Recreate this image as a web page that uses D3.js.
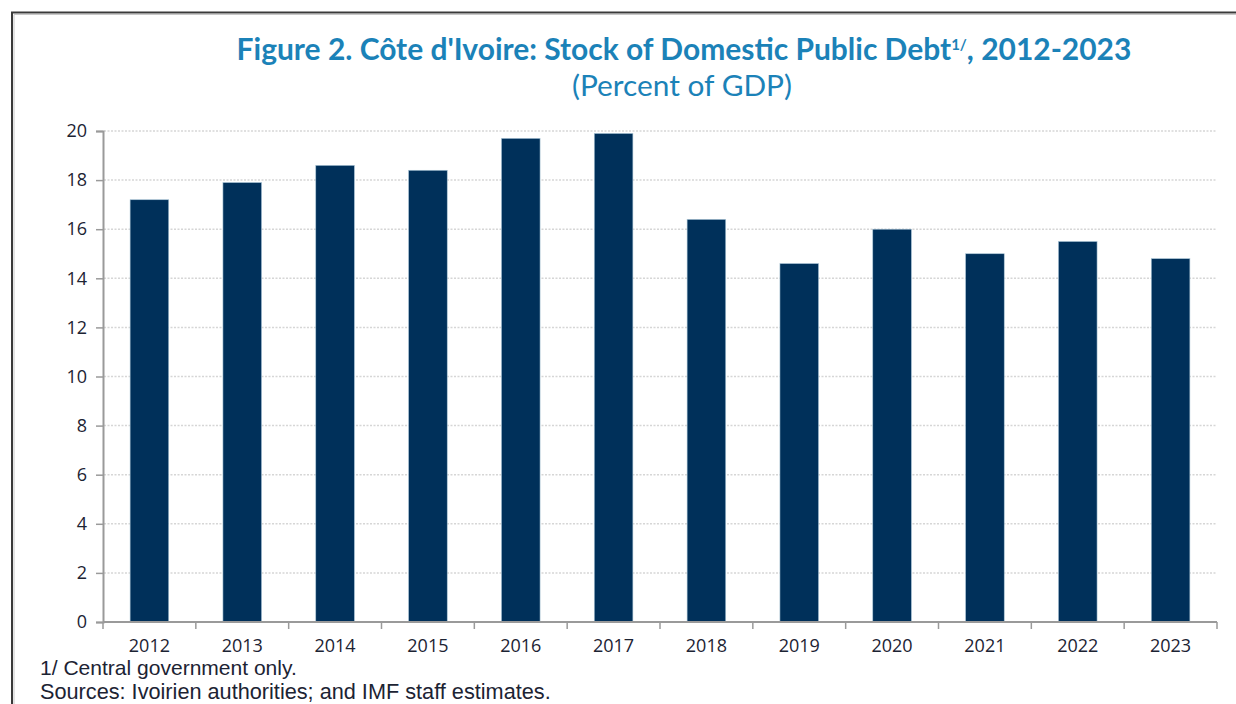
<!DOCTYPE html>
<html>
<head>
<meta charset="utf-8">
<script src="https://cdn.jsdelivr.net/npm/d3@7"></script>
<style>
  html, body { margin: 0; padding: 0; background: #fff; }
  svg { display: block; }
</style>
</head>
<body>
<svg id="chart" width="1236" height="704"></svg>
<script>
// Domestic public debt stock, percent of GDP
const years = ["2012", "2013", "2014", "2015", "2016", "2017", "2018", "2019", "2020", "2021", "2022", "2023"];
const debtPct = [17.2, 17.9, 18.6, 18.4, 19.7, 19.9, 16.4, 14.6, 16.0, 15.0, 15.5, 14.8];
const yTicks = [0, 2, 4, 6, 8, 10, 12, 14, 16, 18, 20];

const titleMain = "Figure 2. Côte d'Ivoire: Stock of Domestic Public Debt";
const titleSup = "1/";
const titleEnd = ", 2012-2023";
const subtitle = "(Percent of GDP)";
const notes = ["1/ Central government only.", "Sources: Ivoirien authorities; and IMF staff estimates."];

const svg = d3.select("#chart");
const W = 1236, H = 704;
const plot = { left: 103, right: 1217, top: 131, bottom: 622 };

const barColor = "#00305a";
const titleColor = "#1b82b8";
const textColor = "#1c2333";
const axisColor = "#9a9a9a";
const labelFont = "'Open Sans', 'Noto Sans', sans-serif";
const noteFont = "'Liberation Sans', Arial, sans-serif";

// Frame around the figure
svg.append("path")
  .attr("d", `M12,${H} L12,12.5 L${W},12.5`)
  .attr("fill", "none")
  .attr("stroke", "#3a3a3a")
  .attr("stroke-width", 2);
svg.append("path")
  .attr("d", `M14,${H} L14,14.5 L${W},14.5`)
  .attr("fill", "none")
  .attr("stroke", "#c8c8c8")
  .attr("stroke-width", 1);

// Scales
const x = d3.scaleBand().domain(years).range([plot.left, plot.right]).padding(0);
const y = d3.scaleLinear().domain([0, 20]).range([plot.bottom, plot.top]);
const barWidth = x.bandwidth() * 0.416;

// Dotted gridlines
svg.append("g")
  .selectAll("line")
  .data(yTicks.filter(d => d > 0))
  .join("line")
  .attr("x1", plot.left + 1)
  .attr("x2", plot.right)
  .attr("y1", d => y(d))
  .attr("y2", d => y(d))
  .attr("stroke", "#d6d6d6")
  .attr("stroke-width", 1.5)
  .attr("stroke-dasharray", "2,1.5");

// Bars
svg.append("g")
  .selectAll("rect")
  .data(years.map((yr, i) => ({ yr, v: debtPct[i] })))
  .join("rect")
  .attr("x", d => x(d.yr) + (x.bandwidth() - barWidth) / 2)
  .attr("width", barWidth)
  .attr("y", d => y(d.v))
  .attr("height", d => y(0) - y(d.v))
  .attr("fill", barColor)
  .attr("stroke", "#a9c4d6")
  .attr("stroke-width", 0.6);

// Y axis
const yAxis = d3.axisLeft(y).tickValues(yTicks).tickSize(7).tickPadding(9).tickFormat(d3.format("d"));
const gy = svg.append("g").attr("transform", `translate(${plot.left},0)`).call(yAxis);
gy.select(".domain").attr("stroke", axisColor).attr("stroke-width", 2);
gy.selectAll(".tick line").attr("stroke", axisColor).attr("stroke-width", 1.5);
gy.selectAll(".tick text")
  .attr("fill", textColor)
  .style("font-family", labelFont)
  .style("font-size", "18px");

// X axis: ticks at category boundaries, labels at centres
const gx = svg.append("g").attr("transform", `translate(0,${plot.bottom})`);
gx.append("line")
  .attr("x1", plot.left).attr("x2", plot.right)
  .attr("stroke", axisColor).attr("stroke-width", 2);
const edges = years.map(yr => x(yr)).concat([plot.right]);
gx.selectAll("line.edge")
  .data(edges)
  .join("line")
  .attr("class", "edge")
  .attr("x1", d => d).attr("x2", d => d)
  .attr("y1", 0).attr("y2", 7)
  .attr("stroke", axisColor).attr("stroke-width", 1.5);
gx.selectAll("text")
  .data(years)
  .join("text")
  .attr("x", d => x(d) + x.bandwidth() / 2)
  .attr("y", 29.5)
  .attr("text-anchor", "middle")
  .attr("fill", textColor)
  .style("font-family", labelFont)
  .style("font-size", "18px")
  .text(d => d);

// scale a text element's font so it spans the given width
function fitWidth(el, base, target) {
  const w = el.node().getBBox().width;
  el.style("font-size", (base * target / w) + "px");
}

// Title with superscript note marker
const title = svg.append("text")
  .attr("x", 684)
  .attr("y", 60)
  .attr("text-anchor", "middle")
  .attr("fill", titleColor)
  .style("font-family", "Lato, 'Open Sans', sans-serif")
  .style("font-weight", "bold")
  .style("font-size", "25px");
title.append("tspan").text(titleMain);
title.append("tspan").attr("dy", -10).style("font-size", "15px").text(titleSup);
title.append("tspan").attr("dy", 10).text(titleEnd);
fitWidth(title, 25, 898);

const sub = svg.append("text")
  .attr("x", 682)
  .attr("y", 96)
  .attr("text-anchor", "middle")
  .attr("fill", titleColor)
  .style("font-family", "Lato, 'Open Sans', sans-serif")
  .style("font-size", "25px")
  .text(subtitle);
fitWidth(sub, 25, 220);

// Footnotes
const noteWidths = [257, 511];
svg.append("g")
  .selectAll("text")
  .data(notes)
  .join("text")
  .attr("x", 40)
  .attr("y", (d, i) => 675 + i * 24)
  .attr("fill", textColor)
  .style("font-family", noteFont)
  .style("font-size", "16px")
  .text(d => d)
  .each(function (d, i) { fitWidth(d3.select(this), 16, noteWidths[i]); });
</script>
</body>
</html>
